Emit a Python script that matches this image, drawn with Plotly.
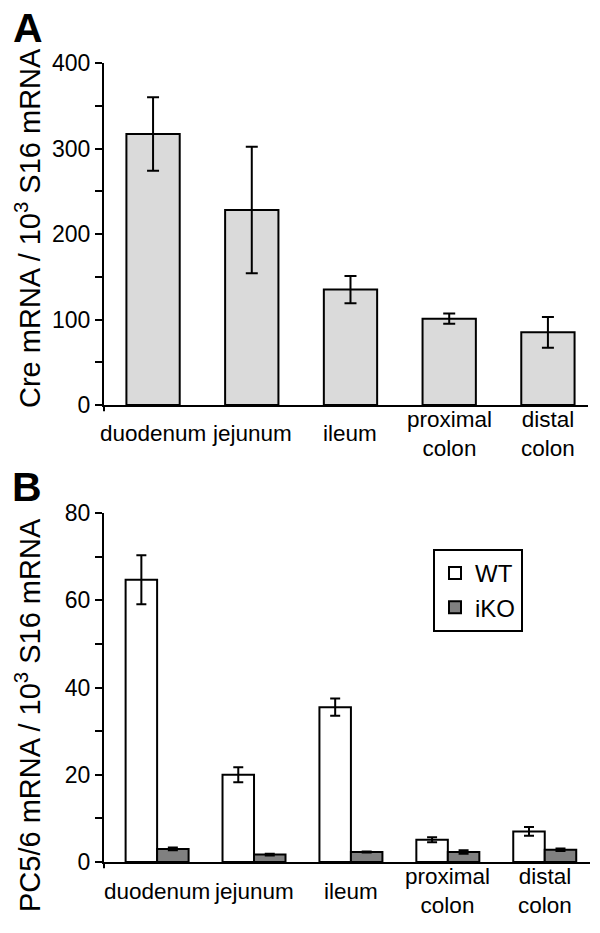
import plotly.graph_objects as go

# ---------------- data ----------------
categories = ["duodenum", "jejunum", "ileum", "proximal colon", "distal colon"]
tick_labels = ["duodenum", "jejunum", "ileum", "proximal<br>colon", "distal<br>colon"]

cre_values = [317, 228, 135, 101, 85]
cre_errors = [43, 74, 16, 6, 18]

wt_values = [64.7, 20.0, 35.5, 5.1, 7.0]
wt_errors = [5.6, 1.7, 2.0, 0.6, 1.0]
iko_values = [3.0, 1.7, 2.3, 2.3, 2.8]
iko_errors = [0.3, 0.2, 0.1, 0.4, 0.3]

a_major_ticks = [0, 100, 200, 300, 400]
a_minor_ticks = [50, 150, 250, 350]
b_major_ticks = [0, 20, 40, 60, 80]
b_minor_ticks = [10, 30, 50, 70]

a_title = "Cre mRNA / 10<sup>3</sup> S16 mRNA"
b_title = "PC5/6 mRNA / 10<sup>3</sup> S16 mRNA"

# ---------------- style ----------------
W, H = 600, 933
FONT = "Liberation Sans, Arial, sans-serif"
TICK_SIZE = 22.5


def py(px):
    return 1 - px / H


fig = go.Figure()

fig.add_trace(go.Bar(
    x=categories, y=cre_values, xaxis="x", yaxis="y",
    width=0.54,
    marker=dict(color="#dadada", line=dict(color="black", width=2)),
    error_y=dict(type="data", array=cre_errors, color="black", thickness=2, width=6),
    showlegend=False,
))

fig.add_trace(go.Bar(
    x=categories, y=wt_values, xaxis="x2", yaxis="y2", name="WT",
    width=0.325, offset=-0.325,
    marker=dict(color="white", line=dict(color="black", width=2)),
    error_y=dict(type="data", array=wt_errors, color="black", thickness=2, width=5),
))
fig.add_trace(go.Bar(
    x=categories, y=iko_values, xaxis="x2", yaxis="y2", name="iKO",
    width=0.325, offset=0,
    marker=dict(color="#808080", line=dict(color="black", width=2)),
    error_y=dict(type="data", array=iko_errors, color="black", thickness=2, width=5),
))

xa_common = dict(showline=True, linecolor="black", linewidth=2, ticks="",
                 showticklabels=False, showgrid=False, zeroline=False, fixedrange=True,
                 automargin=False)
ya_common = dict(showline=True, linecolor="black", linewidth=2, ticks="outside",
                 ticklen=7, tickwidth=2, tickcolor="black", showgrid=False, zeroline=False,
                 tickfont=dict(family=FONT, size=23, color="black"),
                 ticksuffix="  ", tickmode="array", fixedrange=True, automargin=False)
minor_common = dict(ticks="outside", ticklen=7, tickwidth=2, tickcolor="black",
                    showgrid=False, tickmode="array")

A_TOP, A_BOT = 63, 405
B_TOP, B_BOT = 513, 862

fig.update_layout(
    template="none",
    width=W, height=H,
    margin=dict(l=0, r=0, t=0, b=0, pad=0, autoexpand=False),
    font=dict(family=FONT, color="black"),
    paper_bgcolor="white", plot_bgcolor="white",
    barmode="group",
    xaxis=dict(domain=[104 / W, 588 / W], range=[-0.497, 4.406], anchor="y", **xa_common),
    yaxis=dict(domain=[py(A_BOT), py(A_TOP)], range=[0, 400], anchor="x",
               tickvals=a_major_ticks, minor=dict(tickvals=a_minor_ticks, **minor_common),
               **ya_common),
    xaxis2=dict(domain=[104 / W, 590 / W], range=[-0.548, 4.467], anchor="y2", **xa_common),
    yaxis2=dict(domain=[py(B_BOT), py(B_TOP)], range=[0, 80], anchor="x2",
                tickvals=b_major_ticks, minor=dict(tickvals=b_minor_ticks, **minor_common),
                **ya_common),
    legend=dict(x=433 / W, y=py(549), xanchor="left", yanchor="top",
                bordercolor="black", borderwidth=2, bgcolor="white",
                tracegroupgap=0, itemwidth=30,
                font=dict(family=FONT, size=24, color="black")),
)

annotations = []
# category labels centred under each category
for xa, zero_px in (("x", A_BOT), ("x2", B_BOT)):
    for cat, lab in zip(categories, tick_labels):
        annotations.append(dict(
            x=cat, xref=xa, y=py(zero_px + 29), yref="paper", text=lab, showarrow=False,
            xanchor="center", yanchor="middle",
            font=dict(family=FONT, size=TICK_SIZE, color="black")))

# y axis titles
annotations.append(dict(x=28 / W, y=py(228), xref="paper", yref="paper", text=a_title,
                        textangle=-90, showarrow=False, xanchor="center", yanchor="middle",
                        font=dict(family=FONT, size=29, color="black")))
annotations.append(dict(x=28 / W, y=py(715), xref="paper", yref="paper", text=b_title,
                        textangle=-90, showarrow=False, xanchor="center", yanchor="middle",
                        font=dict(family=FONT, size=29, color="black")))
# panel letters
annotations.append(dict(x=28 / W, y=py(28), xref="paper", yref="paper", text="<b>A</b>",
                        showarrow=False, xanchor="center", yanchor="middle",
                        font=dict(family=FONT, size=41, color="black")))
annotations.append(dict(x=27 / W, y=py(487), xref="paper", yref="paper", text="<b>B</b>",
                        showarrow=False, xanchor="center", yanchor="middle",
                        font=dict(family=FONT, size=41, color="black")))
fig.update_layout(annotations=annotations)

# small downward extension of the y axis below the origin
fig.add_shape(type="line", xref="x domain", yref="y domain", x0=0, x1=0, y0=0, y1=-0.018,
              line=dict(color="black", width=2))
fig.add_shape(type="line", xref="x2 domain", yref="y2 domain", x0=0, x1=0, y0=0, y1=-0.018,
              line=dict(color="black", width=2))

fig.write_html("out.html", config={"displayModeBar": False},
               post_script="document.body.style.margin='0';")
